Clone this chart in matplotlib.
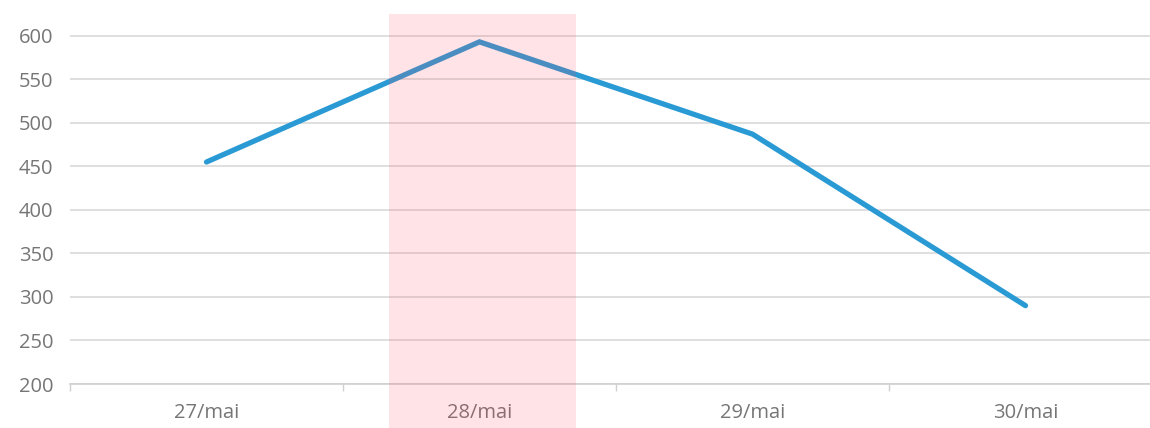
import matplotlib
matplotlib.use("Agg")
import matplotlib.pyplot as plt
from matplotlib.patches import Rectangle
import matplotlib.transforms as mtransforms

categories = ["27/mai", "28/mai", "29/mai", "30/mai"]
values = [455, 593, 487, 290]
highlight_index = 1

plt.rcParams['font.family'] = ['Open Sans', 'DejaVu Sans']

fig = plt.figure(figsize=(11.5, 4.28), dpi=100)
ax = fig.add_axes([70/1150, 44/428, 1092/1150, 370/428])

x = list(range(len(categories)))
ax.plot(x, values, color="#2A9AD4", lw=3.8, solid_capstyle="round",
        solid_joinstyle="miter", zorder=3)

ax.set_xlim(-0.5, len(categories) - 0.5)
ax.set_ylim(200, 625)
ax.set_yticks(range(200, 601, 50))
ax.set_xticks(x)
ax.set_xticklabels(categories)
ax.set_xticks([i + 0.5 for i in range(-1, len(categories))], minor=True)

ax.grid(axis="y", color="#D9D9D9", lw=1.2, zorder=0)
ax.set_axisbelow(True)
for s in ["top", "right", "left"]:
    ax.spines[s].set_visible(False)
ax.spines["bottom"].set_color("#D0D0D0")
ax.spines["bottom"].set_linewidth(1.2)

ax.tick_params(axis="y", length=0, pad=12, labelsize=14.5, labelcolor="#767676")
ax.tick_params(axis="x", which="major", length=0, pad=14, labelsize=14.5,
               labelcolor="#767676")
ax.tick_params(axis="x", which="minor", length=5, width=1, color="#D0D0D0")

trans = mtransforms.blended_transform_factory(ax.transData, ax.transAxes)
band = Rectangle((highlight_index - 0.333, -0.2), 0.685, 1.2, transform=trans,
                 facecolor=(1.0, 0.27, 0.35), alpha=0.15, edgecolor="none",
                 clip_on=False, zorder=4)
ax.add_patch(band)

fig.savefig("out.png", dpi=100, facecolor="white")
